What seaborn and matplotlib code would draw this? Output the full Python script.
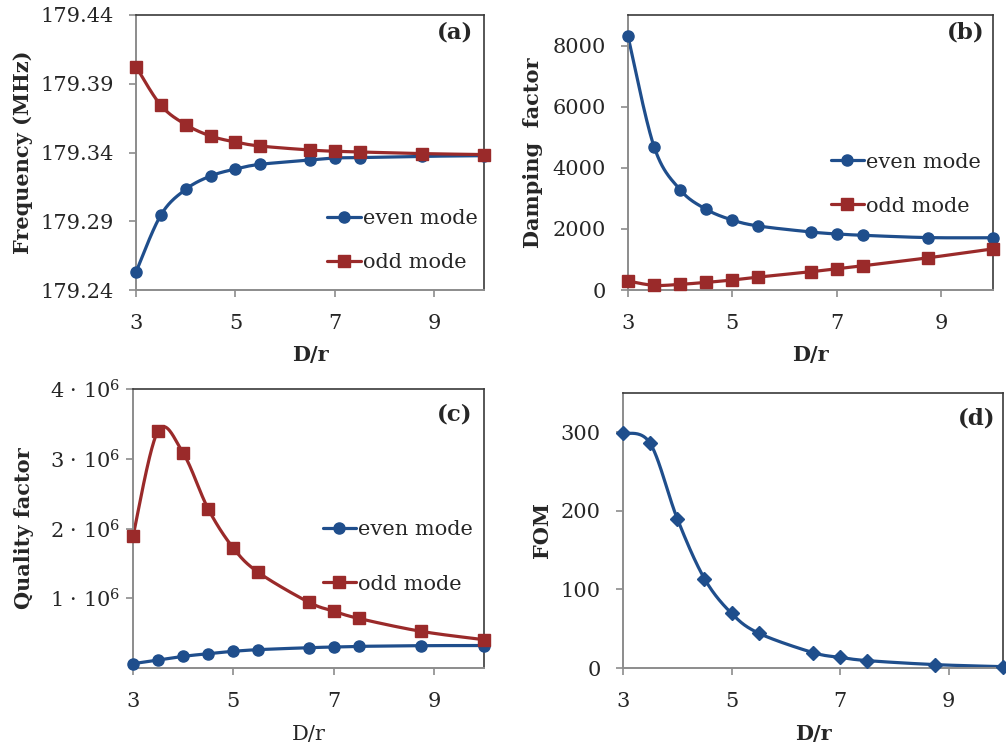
import numpy as np
import pandas as pd
import matplotlib
matplotlib.use("Agg")
import matplotlib.pyplot as plt
from matplotlib.lines import Line2D
import seaborn as sns

# ---------------- data ----------------
d_over_r = [3, 3.5, 4, 4.5, 5, 5.5, 6.5, 7, 7.5, 8.75, 10]

freq_even = [179.2531, 179.2945, 179.3132, 179.3229, 179.3280, 179.3314,
             179.3345, 179.3360, 179.3363, 179.3372, 179.3377]
freq_odd = [179.4025, 179.3743, 179.3603, 179.3520, 179.3476, 179.3447,
            179.3418, 179.3409, 179.3404, 179.3392, 179.3385]

damp_even = [8300, 4690, 3280, 2640, 2290, 2095, 1900, 1834, 1791, 1715, 1710]
damp_odd = [293, 152, 185, 250, 326, 423, 597, 695, 792, 1053, 1346]

q_even = [0.062e6, 0.115e6, 0.167e6, 0.205e6, 0.239e6, 0.263e6,
          0.291e6, 0.301e6, 0.310e6, 0.320e6, 0.322e6]
q_odd = [1.89e6, 3.40e6, 3.08e6, 2.28e6, 1.72e6, 1.37e6,
         0.945e6, 0.816e6, 0.711e6, 0.525e6, 0.406e6]

fom = [299, 286, 190, 113.8, 69.5, 44.3, 19.6, 13.6, 9.4, 4.3, 1.7]

series_labels = ["even mode", "odd mode"]
q_tick_values = [1e6, 2e6, 3e6, 4e6]
q_tick_labels = [r"1 · 10$^{6}$", r"2 · 10$^{6}$", r"3 · 10$^{6}$", r"4 · 10$^{6}$"]

# ---------------- style ----------------
sns.set_theme(style="white")
plt.rcParams["font.family"] = ["DejaVu Serif"]
plt.rcParams["mathtext.fontset"] = "dejavuserif"
plt.rcParams["mathtext.default"] = "regular"

BLUE = "#1F4E8C"
RED = "#9A2A2A"
TEXT = "#262626"
FS = 15
LW = 2.3
MS = 8


def smooth(x, y, n=40):
    """Excel-like smoothed line (Catmull-Rom Bezier) for drawing the curve."""
    x = np.asarray(x, float)
    y = np.asarray(y, float)
    P = np.column_stack([x, y])
    m = len(P)
    out = []
    t = np.linspace(0, 1, n)[:, None]
    for i in range(m - 1):
        p0 = P[i]
        p3 = P[i + 1]
        pm = P[i - 1] if i > 0 else P[i]
        pp = P[i + 2] if i + 2 < m else P[i + 1]
        c1 = p0 + (p3 - pm) / 6.0
        c2 = p3 - (pp - p0) / 6.0
        seg = ((1 - t) ** 3) * p0 + 3 * ((1 - t) ** 2) * t * c1 + 3 * (1 - t) * t ** 2 * c2 + t ** 3 * p3
        out.append(seg if i == 0 else seg[1:])
    s = np.vstack(out)
    return s[:, 0], s[:, 1]


def draw(ax, x, y, color, marker, ms):
    xs, ys = smooth(x, y)
    sns.lineplot(x=xs, y=ys, ax=ax, color=color, lw=LW, sort=False,
                 estimator=None, legend=False)
    ax.plot(x, y, linestyle="none", marker=marker, color=color,
            markersize=ms, clip_on=False, zorder=5)


def style_axes(ax, xlabel_bold=True, ytick_pad=11):
    for s in ["left", "bottom"]:
        ax.spines[s].set_color("#8C8C8C")
        ax.spines[s].set_linewidth(1.4)
    for s in ["top", "right"]:
        ax.spines[s].set_color("#3A3A3A")
        ax.spines[s].set_linewidth(1.2)
    ax.tick_params(axis="both", which="major", direction="out", length=5,
                   width=1.2, color="#8C8C8C", labelsize=FS, labelcolor=TEXT,
                   left=True, bottom=True)
    ax.tick_params(axis="y", pad=ytick_pad)
    ax.tick_params(axis="x", pad=12)
    ax.set_xlim(3, 10)
    ax.set_xticks([3, 5, 7, 9])
    ax.set_xlabel("D/r", fontsize=FS, fontweight="bold" if xlabel_bold else "normal",
                  color=TEXT)
    ax.xaxis.set_label_coords(0.5, -0.235)
    ax.xaxis.label.set_va("center")
    ax.grid(False)


def set_ylab(ax, text, x):
    ax.set_ylabel(text, fontsize=FS, fontweight="bold", color=TEXT)
    ax.yaxis.set_label_coords(x, 0.5)
    ax.yaxis.label.set_va("center")


def legend(ax, x, y, spacing=1.2):
    handles = [
        Line2D([0], [0], color=BLUE, lw=LW, marker="o", markersize=MS),
        Line2D([0], [0], color=RED, lw=LW, marker="s", markersize=MS),
    ]
    ax.legend(handles, series_labels, loc="center left", bbox_to_anchor=(x, y),
              frameon=False, fontsize=FS, handlelength=1.6, handletextpad=0.1,
              labelspacing=spacing, borderaxespad=0, borderpad=0)


fig = plt.figure(figsize=(10.06, 7.51), dpi=100)
W, H = 1006, 751


def add_axes(l, r, t, b):
    return fig.add_axes([l / W, 1 - b / H, (r - l) / W, (b - t) / H])


ax_a = add_axes(136, 484, 15, 290)
ax_b = add_axes(628, 993, 15, 290)
ax_c = add_axes(133, 484, 389, 668)
ax_d = add_axes(623, 1003, 393, 668)

# (a) frequency
draw(ax_a, d_over_r, freq_even, BLUE, "o", MS)
draw(ax_a, d_over_r, freq_odd, RED, "s", MS)
style_axes(ax_a)
ax_a.set_ylim(179.24, 179.44)
ax_a.set_yticks([179.24, 179.29, 179.34, 179.39, 179.44])
ax_a.set_yticklabels(["179.24", "179.29", "179.34", "179.39", "179.44"])
set_ylab(ax_a, "Frequency (MHz)", -0.325)
legend(ax_a, 0.55, 0.18)
ax_a.text(0.968, 0.938, "(a)", transform=ax_a.transAxes, ha="right", va="center",
          fontsize=16.5, fontweight="bold", color=TEXT)

# (b) damping
draw(ax_b, d_over_r, damp_even, BLUE, "o", MS)
draw(ax_b, d_over_r, damp_odd, RED, "s", MS)
style_axes(ax_b)
ax_b.set_ylim(0, 9000)
ax_b.set_yticks([0, 2000, 4000, 6000, 8000])
set_ylab(ax_b, "Damping  factor", -0.26)
legend(ax_b, 0.555, 0.385)
ax_b.text(0.978, 0.935, "(b)", transform=ax_b.transAxes, ha="right", va="center",
          fontsize=16.5, fontweight="bold", color=TEXT)

# (c) quality factor
draw(ax_c, d_over_r, q_even, BLUE, "o", MS)
draw(ax_c, d_over_r, q_odd, RED, "s", MS)
style_axes(ax_c, xlabel_bold=False, ytick_pad=4)
ax_c.set_ylim(0, 4e6)
ax_c.set_yticks(q_tick_values)
ax_c.set_yticklabels(q_tick_labels)
set_ylab(ax_c, "Quality factor", -0.31)
ax_c.xaxis.set_label_coords(0.5, -0.24)
legend(ax_c, 0.54, 0.398, spacing=1.7)
ax_c.text(0.966, 0.907, "(c)", transform=ax_c.transAxes, ha="right", va="center",
          fontsize=16.5, fontweight="bold", color=TEXT)

# (d) FOM
draw(ax_d, d_over_r, fom, BLUE, "D", 7)
style_axes(ax_d)
ax_d.set_ylim(0, 350)
ax_d.set_yticks([0, 100, 200, 300])
set_ylab(ax_d, "FOM", -0.213)
ax_d.xaxis.set_label_coords(0.5, -0.24)
ax_d.text(0.979, 0.907, "(d)", transform=ax_d.transAxes, ha="right", va="center",
          fontsize=16.5, fontweight="bold", color=TEXT)

fig.savefig("out.png", dpi=100, facecolor="white")
